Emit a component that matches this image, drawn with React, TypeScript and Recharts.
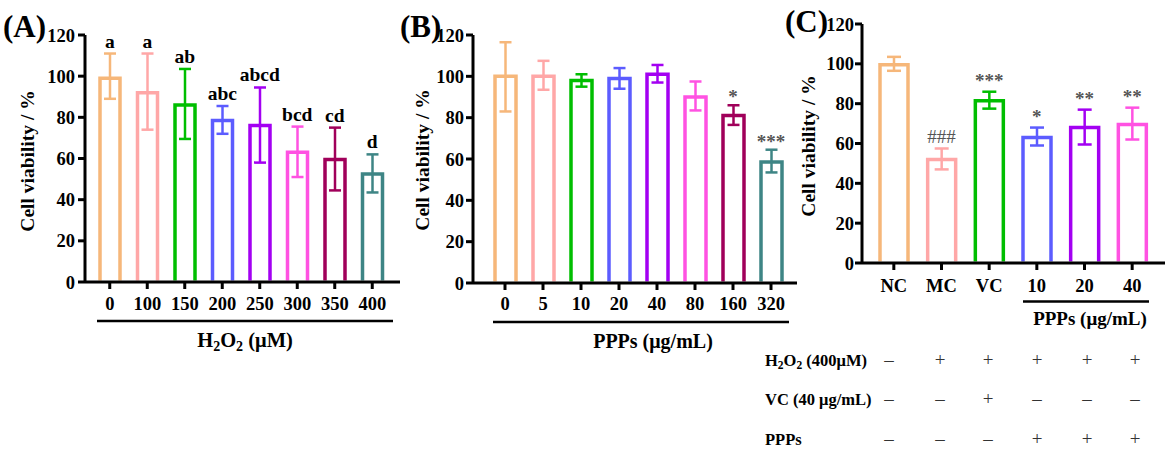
import React from 'react';
import { ComposedChart, Bar, XAxis, YAxis, ErrorBar, Line, LabelList } from 'recharts';

// ---------- DATA ----------
const A_CATEGORIES = ['0', '100', '150', '200', '250', '300', '350', '400'];
const A_VALUES = [99, 92, 86, 78.5, 76, 63, 59.5, 52.5];
const A_UPPER = [111, 111, 103.5, 85.5, 94.5, 75.5, 75, 62];
const A_LOWER = [89, 74, 69.5, 72, 58, 51, 44.5, 43.5];
const A_ANNOT = ['a', 'a', 'ab', 'abc', 'abcd', 'bcd', 'cd', 'd'];

const B_CATEGORIES = ['0', '5', '10', '20', '40', '80', '160', '320'];
const B_VALUES = [100, 100, 98, 99, 101, 90, 81, 58.5];
const B_UPPER = [116.5, 107.5, 101, 104, 105.5, 97.5, 86, 64.5];
const B_LOWER = [83, 93.5, 95, 94, 97, 83.5, 76.5, 53.5];
const B_ANNOT = ['', '', '', '', '', '', '*', '***'];

const C_CATEGORIES = ['NC', 'MC', 'VC', '10', '20', '40'];
const C_VALUES = [99.5, 52, 81.5, 63, 68, 69.5];
const C_UPPER = [103.5, 57.5, 86, 68, 77, 78];
const C_LOWER = [96.5, 47, 77.5, 59, 59.5, 62];
const C_ANNOT = ['', '###', '***', '*', '**', '**'];

const Y_TICKS = [0, 20, 40, 60, 80, 100, 120];

const TABLE_LABELS = ['H2O2', 'VC (40 μg/mL)', 'PPPs'];
const ROW_H2O2 = ['–', '+', '+', '+', '+', '+'];
const ROW_VC = ['–', '–', '+', '–', '–', '–'];
const ROW_PPPS = ['–', '–', '–', '+', '+', '+'];

// ---------- STYLE ----------
const COLORS = ['#F6B77A', '#FFA7A7', '#00BE00', '#5C5CFF', '#A300F2', '#FF52E2', '#A0005A', '#3E8585'];
const C_COLORS = ['#F6B77A', '#FFA7A7', '#00BE00', '#5C5CFF', '#A300F2', '#FF52E2'];
const FONT = "'Liberation Serif', 'Times New Roman', serif";
const TABLE_COLS = [889, 940, 988, 1037, 1087, 1135];
const TABLE_ROWS_Y = [366, 405, 445];

function buildRows(cats: string[], vals: number[], lows: number[], highs: number[], anns: string[]) {
  return cats.map((c, i) => {
    const row: any = { name: c, value: vals[i], top: highs[i], ann: anns[i] };
    row['e' + i] = [vals[i] - lows[i], highs[i] - vals[i]];
    return row;
  });
}

const A_DATA = buildRows(A_CATEGORIES, A_VALUES, A_LOWER, A_UPPER, A_ANNOT);
const B_DATA = buildRows(B_CATEGORIES, B_VALUES, B_LOWER, B_UPPER, B_ANNOT);
const C_DATA = buildRows(C_CATEGORIES, C_VALUES, C_LOWER, C_UPPER, C_ANNOT);

const makeOpenBar = (colors: string[], sw: number) => (props: any) => {
  const { x, y, width, height, index } = props;
  if (x == null || y == null) return null;
  const bottom = y + height - 1.5;
  return (
    <path
      d={`M${x},${bottom}V${y}H${x + width}V${bottom}`}
      fill="#fff"
      stroke={colors[index]}
      strokeWidth={sw}
    />
  );
};

const makeAnn = (style: any, offset: number) => (props: any) => {
  const { value } = props;
  if (!value) return null;
  const vb = props.viewBox || {};
  const px = props.x != null ? props.x : vb.x;
  const py = props.y != null ? props.y : vb.y;
  const w = props.width != null ? props.width : vb.width || 0;
  if (px == null || py == null) return null;
  const isStar = String(value).indexOf('*') >= 0;
  return (
    <text
      x={px + (w || 0) / 2}
      y={py - offset}
      textAnchor="middle"
      fill={style.fill}
      fontSize={style.fontSize}
      fontFamily={style.fontFamily}
      fontWeight={isStar ? 'bold' : style.fontWeight}
    >
      {value}
    </text>
  );
};

const tickStyle = { fill: '#000', fontSize: 18.5, fontWeight: 'bold', fontFamily: FONT };
const axisLineStyle = { stroke: '#000', strokeWidth: 3 };

interface PanelProps {
  data: any[];
  colors: string[];
  width: number;
  margin: { top: number; right: number; bottom: number; left: number };
  padding: { left: number; right: number };
  barSize: number;
  capHalf: number;
  xTickMargin: number;
  yTickMargin: number;
  annStyle: any;
  annOffset: number;
}

function Panel(p: PanelProps) {
  return (
    <ComposedChart width={p.width} height={449} data={p.data} margin={p.margin}>
      <XAxis
        dataKey="name"
        interval={0}
        height={30}
        tick={tickStyle}
        tickSize={7}
        tickMargin={p.xTickMargin}
        tickLine={axisLineStyle}
        axisLine={axisLineStyle}
        padding={p.padding}
      />
      <YAxis
        width={60}
        domain={[0, 120]}
        ticks={Y_TICKS}
        interval={0}
        allowDataOverflow
        tick={tickStyle}
        tickSize={7}
        tickMargin={p.yTickMargin}
        tickLine={axisLineStyle}
        axisLine={axisLineStyle}
      />
      <Bar dataKey="value" barSize={p.barSize} isAnimationActive={false} shape={makeOpenBar(p.colors, 3.5)}>
        {p.data.map((_, i) => (
          <ErrorBar
            key={i}
            dataKey={'e' + i}
            direction="y"
            width={p.capHalf}
            stroke={p.colors[i]}
            strokeWidth={2.5}
          />
        ))}
      </Bar>
      <Line
        dataKey="top"
        stroke="none"
        dot={false}
        activeDot={false}
        isAnimationActive={false}
        legendType="none"
      >
        <LabelList dataKey="ann" position="top" content={makeAnn(p.annStyle, p.annOffset)} />
      </Line>
    </ComposedChart>
  );
}

const starStyle = { fill: '#555', fontSize: 19, fontFamily: FONT, fontWeight: 'normal' };
const letterStyle = { fill: '#000', fontSize: 19.5, fontWeight: 'bold', fontFamily: FONT };

export default function App() {
  const abs: React.CSSProperties = { position: 'absolute', left: 0, top: 0 };
  return (
    <div style={{ position: 'absolute', left: 0, top: 0, width: 1169, height: 449, background: '#fff', overflow: 'hidden' }}>
      <div style={abs}>
        <Panel
          data={A_DATA}
          colors={COLORS}
          width={400}
          margin={{ top: 35, right: 0, bottom: 137, left: 25 }}
          padding={{ left: 6, right: 9 }}
          barSize={20}
          capHalf={6}
          xTickMargin={8}
          yTickMargin={3}
          annStyle={letterStyle}
          annOffset={6}
        />
      </div>
      <div style={abs}>
        <Panel
          data={B_DATA}
          colors={COLORS}
          width={797}
          margin={{ top: 35, right: 0, bottom: 136, left: 413 }}
          padding={{ left: 13, right: 7 }}
          barSize={21}
          capHalf={6}
          xTickMargin={7}
          yTickMargin={2}
          annStyle={starStyle}
          annOffset={2}
        />
      </div>
      <div style={abs}>
        <Panel
          data={C_DATA}
          colors={C_COLORS}
          width={1165}
          margin={{ top: 24, right: 0, bottom: 156, left: 802 }}
          padding={{ left: 8, right: 9 }}
          barSize={28}
          capHalf={7}
          xTickMargin={8.5}
          yTickMargin={1}
          annStyle={starStyle}
          annOffset={5}
        />
      </div>
      <svg style={{ ...abs, pointerEvents: 'none' }} width={1169} height={449} fontFamily={FONT}>
        {/* panel letters */}
        <text x={3} y={37} fontSize={31} fontWeight="bold">(A)</text>
        <text x={400} y={37} fontSize={31} fontWeight="bold">(B)</text>
        <text x={785} y={32} fontSize={31} fontWeight="bold">(C)</text>

        {/* y titles */}
        <text transform="translate(34,161) rotate(-90)" textAnchor="middle" fontSize={19.5} fontWeight="bold">Cell viability / %</text>
        <text transform="translate(429,160) rotate(-90)" textAnchor="middle" fontSize={19.5} fontWeight="bold">Cell viability / %</text>
        <text transform="translate(815,146) rotate(-90)" textAnchor="middle" fontSize={19.5} fontWeight="bold">Cell viability / %</text>

        {/* group lines and titles */}
        <line x1={97} x2={393} y1={321} y2={321} stroke="#000" strokeWidth={2.5} />
        <text x={245} y={347} textAnchor="middle" fontSize={20.5} fontWeight="bold">
          H<tspan fontSize={14} dy={4}>2</tspan>
          <tspan dy={-4}>O</tspan>
          <tspan fontSize={14} dy={4}>2</tspan>
          <tspan dy={-4}> (μM)</tspan>
        </text>

        <line x1={493} x2={789} y1={322} y2={322} stroke="#000" strokeWidth={2.5} />
        <text x={653} y={348} textAnchor="middle" fontSize={20} fontWeight="bold">PPPs (μg/mL)</text>

        <line x1={1023} x2={1149} y1={301.5} y2={301.5} stroke="#000" strokeWidth={2.5} />
        <text x={1090} y={325} textAnchor="middle" fontSize={19} fontWeight="bold">PPPs (μg/mL)</text>

        {/* table */}
        <text x={765} y={TABLE_ROWS_Y[0]} fontSize={16.5} fontWeight="bold">
          H<tspan fontSize={11.5} dy={3}>2</tspan>
          <tspan dy={-3}>O</tspan>
          <tspan fontSize={11.5} dy={3}>2</tspan>
          <tspan dy={-3}> (400μM)</tspan>
        </text>
        <text x={765} y={TABLE_ROWS_Y[1]} fontSize={16.5} fontWeight="bold">{TABLE_LABELS[1]}</text>
        <text x={765} y={TABLE_ROWS_Y[2]} fontSize={16.5} fontWeight="bold">{TABLE_LABELS[2]}</text>
        {[ROW_H2O2, ROW_VC, ROW_PPPS].map((row, r) =>
          row.map((s, c) => (
            <text key={r + '-' + c} x={TABLE_COLS[c]} y={TABLE_ROWS_Y[r]} textAnchor="middle" fontSize={19} fill="#333">
              {s}
            </text>
          ))
        )}
      </svg>
    </div>
  );
}
